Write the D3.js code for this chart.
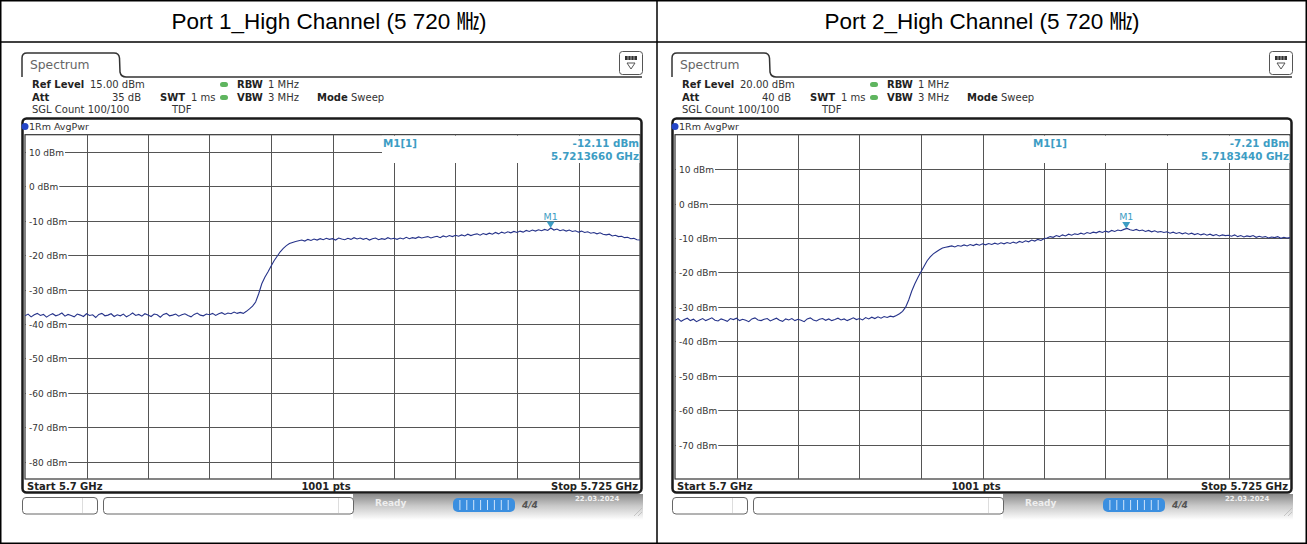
<!DOCTYPE html>
<html>
<head>
<meta charset="utf-8">
<script src="https://cdn.jsdelivr.net/npm/d3@7/dist/d3.min.js"></script>
<style>
body { margin: 0; background: #fff; }
svg { display: block; font-family: "DejaVu Sans", sans-serif; }
</style>
</head>
<body>
<svg id="chart" width="1307" height="544"></svg>
<script>
// panel headers + instrument settings
var titles = ["Port 1_High Channel (5 720  \u3392)", "Port 2_High Channel (5 720  \u3392)"];
var refLevels = [15, 20];
var attValues = ["35 dB", "40 dB"];
var startFreq = 5.7, stopFreq = 5.725, sweepPts = 1001;

var yTicks1 = [10, 0, -10, -20, -30, -40, -50, -60, -70, -80];
var yTicks2 = [10, 0, -10, -20, -30, -40, -50, -60, -70];

var markerFreqs = [5.7213660, 5.7183440];
var markerLevels = [-12.11, -7.21];

// trace (0.125 MHz steps, dBm)
var trace1 = [
 -37.6, -37.1, -37.9, -37.3, -36.9, -37.5, -37.2, -38.0, -37.4, -37.0,
 -37.6, -37.3, -36.8, -37.7, -37.2, -37.5, -37.9, -37.1, -37.4, -37.8,
 -37.0, -37.5, -37.3, -38.1, -37.2, -36.9, -37.6, -37.4, -37.0, -37.8,
 -37.3, -37.6, -37.1, -37.9, -37.4, -36.8, -37.5, -37.2, -37.7, -37.0,
 -37.4, -37.8, -37.1, -37.3, -38.0, -37.2, -36.9, -37.6, -37.4, -37.1,
 -37.7, -37.3, -37.0, -37.5, -37.9, -37.2, -36.8, -37.4, -37.6, -37.1,
 -37.3, -36.9, -37.5, -37.0, -36.7, -37.2, -36.8, -37.0, -36.5, -36.9,
 -36.6, -36.9, -36.3, -35.6, -34.8, -33.6, -31.2, -28.3, -26.4, -24.9,
 -23.2, -21.6, -20.3, -19.0, -18.0, -17.2, -16.6, -16.3, -16.0, -15.8,
 -15.6, -15.9, -15.4, -15.7, -15.3, -15.6, -15.2, -15.5, -15.1, -15.4,
 -15.2, -15.6, -15.0, -15.3, -15.5, -15.1, -15.4, -14.9, -15.3, -15.0,
 -15.4, -15.1, -15.6, -15.2, -15.0, -15.5, -15.2, -15.4, -14.9, -15.3,
 -15.1, -15.4, -15.0, -15.3, -14.8, -15.2, -14.9, -15.1, -14.7, -15.0,
 -14.8, -14.6, -15.0, -14.7, -14.5, -14.9, -14.4, -14.7, -14.3, -14.6,
 -14.2, -14.5, -14.1, -14.4, -13.9, -14.3, -14.0, -13.8, -14.2, -13.7,
 -14.0, -13.6, -13.9, -13.4, -13.8, -13.3, -13.6, -13.2, -13.5, -13.1,
 -13.4, -13.0, -13.3, -12.8, -13.1, -12.7, -13.0, -12.6, -12.9, -12.5,
 -12.8, -12.11, -12.7, -12.4, -12.9, -12.6, -13.0, -12.7, -13.1, -12.9,
 -13.3, -13.0, -13.4, -13.2, -13.6, -13.4, -13.8, -13.5, -13.9, -14.1,
 -13.9, -14.4, -14.2, -14.6, -14.5, -14.9, -14.8, -15.2, -15.1, -15.5,
 -15.6
];
var trace2 = [
 -33.9, -33.4, -34.2, -33.7, -33.3, -34.0, -33.6, -34.3, -33.8, -33.4,
 -34.0, -33.6, -33.2, -33.9, -34.1, -33.5, -33.8, -34.2, -33.4, -33.7,
 -33.3, -34.0, -33.6, -33.9, -34.3, -33.5, -33.2, -33.8, -34.0, -33.6,
 -33.4, -34.1, -33.7, -33.3, -33.9, -34.2, -33.5, -33.8, -33.4, -34.0,
 -33.6, -33.9, -34.3, -33.5, -33.2, -33.8, -34.1, -33.6, -33.4, -33.9,
 -33.5, -34.0, -33.7, -33.3, -33.8, -33.5, -34.0, -33.6, -33.2, -33.7,
 -33.4, -33.8, -33.1, -33.5, -33.0, -33.4, -32.9, -33.3, -32.8, -33.1,
 -32.7, -32.9, -32.5, -32.0, -31.3, -30.1, -28.0, -25.4, -23.3, -21.5,
 -19.8, -18.2, -16.6, -15.5, -14.6, -14.0, -13.4, -12.9, -12.7, -12.5,
 -12.3, -12.6, -12.2, -12.4, -12.0, -12.3, -11.9, -12.2, -11.8, -12.1,
 -11.7, -12.0, -11.6, -11.9, -11.5, -11.8, -11.4, -11.7, -11.3, -11.6,
 -11.2, -11.5, -11.0, -11.3, -10.8, -11.1, -10.6, -10.9, -10.4, -10.7,
 -10.2, -10.0, -9.6, -9.8, -9.3, -9.6, -9.1, -9.4, -8.9, -9.2,
 -8.8, -9.0, -8.6, -8.9, -8.4, -8.7, -8.3, -8.5, -8.1, -8.4,
 -8.0, -8.3, -7.8, -8.1, -7.7, -7.9, -7.5, -7.21, -7.6, -7.8,
 -7.5, -7.9, -7.7, -8.1, -7.8, -8.2, -7.9, -8.3, -8.1, -8.4,
 -8.2, -8.6, -8.3, -8.7, -8.4, -8.8, -8.5, -8.9, -8.6, -9.0,
 -8.7, -9.1, -8.8, -9.2, -8.9, -9.3, -9.0, -9.4, -9.1, -9.3,
 -9.2, -9.5, -9.1, -9.6, -9.3, -9.7, -9.4, -9.6, -9.3, -9.8,
 -9.5, -9.8, -9.6, -10.0, -9.7, -9.9, -9.6, -10.1, -9.8, -10.0,
 -9.9
];

var traces = [trace1, trace2];
var yTickSets = [yTicks1, yTicks2];

var svg = d3.select("#chart");
var teal = "#3d9dc4", navy = "#26338a";

var defs = svg.append("defs");
var grad = defs.append("linearGradient").attr("id", "barGrad")
	.attr("x1", 0).attr("y1", 0).attr("x2", 0).attr("y2", 1);
grad.append("stop").attr("offset", "0%").attr("stop-color", "#8a8a8a");
grad.append("stop").attr("offset", "45%").attr("stop-color", "#c8c8c8");
grad.append("stop").attr("offset", "100%").attr("stop-color", "#ffffff");

//  outer table
svg.append("rect").attr("x", 0.75).attr("y", 0.75).attr("width", 1305.5).attr("height", 542.5)
	.attr("fill", "none").attr("stroke", "#000").attr("stroke-width", 1.5);
svg.append("line").attr("x1", 0).attr("x2", 1307).attr("y1", 42).attr("y2", 42)
	.attr("stroke", "#000").attr("stroke-width", 1.5);
svg.append("line").attr("x1", 657).attr("x2", 657).attr("y1", 0).attr("y2", 544)
	.attr("stroke", "#000").attr("stroke-width", 1.5);

svg.selectAll("text.title").data(titles).enter().append("text")
	.attr("class", "title")
	.attr("x", function(d, i) { return i ? 982 : 329; })
	.attr("y", 29)
	.attr("text-anchor", "middle")
	.style("font-family", "'Liberation Sans', Arial, 'Noto Sans CJK KR', sans-serif")
	.style("font-size", "22.5px")
	.attr("fill", "#000")
	.text(function(d) { return d; });

function txt(g, x, y, s, opts) {
	opts = opts || {};
	return g.append("text").attr("x", x).attr("y", y)
		.attr("text-anchor", opts.anchor || "start")
		.style("font-size", (opts.size || 10) + "px")
		.style("font-weight", opts.bold ? "bold" : "normal")
		.attr("fill", opts.color || "#333")
		.text(s);
}

function drawPanel(k) {
	var ox = k * 650;
	var g = svg.append("g").attr("transform", "translate(" + ox + ",0)");
	var x0 = 25, x1 = 640, yTop = 134.7, yBot = 479;

	var x = d3.scaleLinear().domain([startFreq, stopFreq]).range([x0, x1]);
	var y = d3.scaleLinear().domain([refLevels[k], refLevels[k] - 100]).range([yTop, yBot]);

	// tab + header line
	g.append("path")
		.attr("d", "M22,77 L22,58 Q22,53 27,53 L114,53 Q119,53 119.5,58 L120,72 Q121,77 126,77 L642,77")
		.attr("fill", "none").attr("stroke", "#333").attr("stroke-width", 1.5);
	txt(g, 30, 69, "Spectrum", {size: 12.3, color: "#666"});

	// menu icon
	g.append("rect").attr("x", 619.5).attr("y", 51.5).attr("width", 23).attr("height", 23).attr("rx", 3)
		.attr("fill", "#fff").attr("stroke", "#555");
	g.append("rect").attr("x", 625).attr("y", 56).attr("width", 12).attr("height", 4).attr("fill", "#333");
	g.selectAll("line.seg").data([628, 631, 634]).enter().append("line")
		.attr("x1", function(d) { return d; }).attr("x2", function(d) { return d; })
		.attr("y1", 56).attr("y2", 60).attr("stroke", "#ccc").attr("stroke-width", 0.8);
	g.append("path").attr("d", "M627,63 L635,63 L631,69 Z").attr("fill", "none").attr("stroke", "#555");

	// settings lines
	txt(g, 32, 88, "Ref Level", {bold: true, color: "#222"});
	txt(g, 90, 88, d3.format(".2f")(refLevels[k]) + " dBm");
	txt(g, 32, 101, "Att", {bold: true, color: "#222"});
	txt(g, 141, 101, attValues[k], {anchor: "end"});
	txt(g, 160, 101, "SWT", {bold: true, color: "#222"});
	txt(g, 191, 101, "1 ms");
	[84.5, 97.5].forEach(function(cy) {
		g.append("rect").attr("x", 220).attr("y", cy - 2.5).attr("width", 8).attr("height", 5).attr("rx", 2.5)
			.attr("fill", "#5fb55f");
	});
	txt(g, 237, 88, "RBW", {bold: true, color: "#222"});
	txt(g, 268, 88, "1 MHz");
	txt(g, 237, 101, "VBW", {bold: true, color: "#222"});
	txt(g, 268, 101, "3 MHz");
	txt(g, 317, 101, "Mode", {bold: true, color: "#222"});
	txt(g, 351, 101, "Sweep");
	txt(g, 32, 113, "SGL Count 100/100");
	txt(g, 172, 113, "TDF");

	// diagram frame
	g.append("rect").attr("x", 22.5).attr("y", 118.5).attr("width", 619).attr("height", 374).attr("rx", 4)
		.attr("fill", "#fff").attr("stroke", "#1a1a1a").attr("stroke-width", 2.5);
	g.append("circle").attr("cx", 25).attr("cy", 126.5).attr("r", 3.5).attr("fill", "#2446c8");
	txt(g, 29, 130, "1Rm AvgPwr", {size: 9.5});

	// grid
	var grid = g.append("g");
	grid.append("rect").attr("x", x0).attr("y", yTop).attr("width", x1 - x0).attr("height", yBot - yTop)
		.attr("fill", "#fff").attr("stroke", "#333").attr("stroke-width", 1.2);
	var vLines = d3.range(1, 10).map(function(i) { return startFreq + i * (stopFreq - startFreq) / 10; });
	grid.selectAll("line.v").data(vLines).enter().append("line").attr("class", "v")
		.attr("x1", function(d) { return Math.round(x(d)) + 0.5; })
		.attr("x2", function(d) { return Math.round(x(d)) + 0.5; })
		.attr("y1", yTop).attr("y2", yBot)
		.attr("stroke", "#555").attr("stroke-width", 1);
	grid.selectAll("line.h").data(yTickSets[k]).enter().append("line").attr("class", "h")
		.attr("x1", x0).attr("x2", x1)
		.attr("y1", function(d) { return Math.round(y(d)) + 0.5; })
		.attr("y2", function(d) { return Math.round(y(d)) + 0.5; })
		.attr("stroke", "#555").attr("stroke-width", 1);

	// y labels over the grid lines
	yTickSets[k].forEach(function(v) {
		var t = txt(grid, 29, Math.round(y(v)) + 3.5, v + " dBm", {size: 9});
		var bb = t.node().getBBox();
		grid.insert("rect", function() { return t.node(); })
			.attr("x", x0 + 1).attr("y", bb.y).attr("width", bb.x + bb.width + 1 - x0 - 1).attr("height", bb.height)
			.attr("fill", "#fff");
	});

	// marker read-out box
	g.append("rect").attr("x", 382).attr("y", yTop + 1).attr("width", x1 - 382 - 0.5).attr("height", 163 - yTop - 1)
		.attr("fill", "#fff");
	txt(g, 383, 147, "M1[1]", {size: 10.3, bold: true, color: teal});
	txt(g, 639, 147, markerLevels[k].toFixed(2) + " dBm", {size: 10.3, bold: true, color: teal, anchor: "end"});
	txt(g, 639, 160, markerFreqs[k].toFixed(7) + " GHz", {size: 10.3, bold: true, color: teal, anchor: "end"});

	// trace
	var data = traces[k];
	var step = (stopFreq - startFreq) / (data.length - 1);
	var line = d3.line()
		.x(function(d, i) { return x(startFreq + i * step); })
		.y(function(d) { return y(d); });
	defs.append("clipPath").attr("id", "clip" + k).append("rect")
		.attr("x", x0).attr("y", yTop).attr("width", x1 - x0).attr("height", yBot - yTop);
	g.append("path").datum(data)
		.attr("clip-path", "url(#clip" + k + ")")
		.attr("d", line)
		.attr("fill", "none").attr("stroke", navy).attr("stroke-width", 1.1);

	// marker
	var mx = x(markerFreqs[k]), my = y(markerLevels[k]);
	g.append("path")
		.attr("d", "M" + (mx - 4) + "," + (my - 6.5) + " L" + (mx + 4) + "," + (my - 6.5) + " L" + mx + "," + my + " Z")
		.attr("fill", teal);
	txt(g, mx, my - 8.5, "M1", {size: 9.5, color: teal, anchor: "middle"});

	// footer
	txt(g, 27, 490, "Start " + startFreq + " GHz", {bold: true, color: "#222"});
	txt(g, 326, 490, sweepPts + " pts", {bold: true, color: "#222", anchor: "middle"});
	txt(g, 638, 490, "Stop " + stopFreq + " GHz", {bold: true, color: "#222", anchor: "end"});

	// status bar below the screen
	g.append("rect").attr("x", 353).attr("y", 494).attr("width", 290).attr("height", 26).attr("fill", "url(#barGrad)");
	g.append("rect").attr("x", 22.5).attr("y", 497.5).attr("width", 75).attr("height", 16.5).attr("rx", 3.5)
		.attr("fill", "#fff").attr("stroke", "#666");
	g.append("line").attr("x1", 82.5).attr("x2", 82.5).attr("y1", 498).attr("y2", 513).attr("stroke", "#ddd");
	g.append("rect").attr("x", 103.5).attr("y", 497.5).attr("width", 250).attr("height", 16.5).attr("rx", 3.5)
		.attr("fill", "#fff").attr("stroke", "#666");
	g.append("line").attr("x1", 338.5).attr("x2", 338.5).attr("y1", 498).attr("y2", 513).attr("stroke", "#ddd");
	txt(g, 375, 506, "Ready", {size: 9, bold: true, color: "#eeeeee"});
	g.append("rect").attr("x", 453).attr("y", 498).attr("width", 62).attr("height", 14).attr("rx", 5).attr("fill", "#3b8fe0");
	g.selectAll("line.prog").data(d3.range(1, 9)).enter().append("line")
		.attr("x1", function(d) { return 453 + d * 6.9; }).attr("x2", function(d) { return 453 + d * 6.9; })
		.attr("y1", 500).attr("y2", 510).attr("stroke", "#cfe4fa").attr("stroke-width", 1);
	txt(g, 522, 508, "4/4", {size: 9, bold: true, color: "#555"}).style("font-style", "italic");
	txt(g, 575, 501, "22.03.2024", {size: 7, bold: true, color: "#f2f2f2"});
	g.selectAll("line.grip").data([0, 4, 8]).enter().append("line")
		.attr("x1", function(d) { return 634 + d; }).attr("y1", 516)
		.attr("x2", 642).attr("y2", function(d) { return 508 + d; })
		.attr("stroke", "#bbb").attr("stroke-width", 0.8);
}

drawPanel(0);
drawPanel(1);
</script>
</body>
</html>
